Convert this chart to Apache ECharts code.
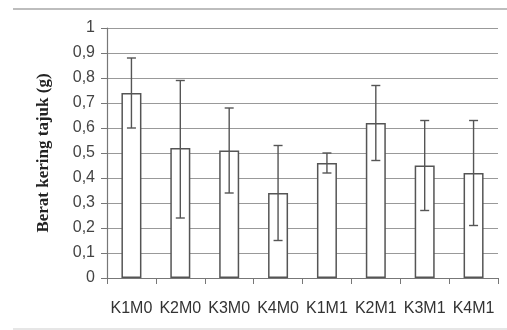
<!DOCTYPE html>
<html>
<head>
<meta charset="utf-8">
<script src="https://cdn.jsdelivr.net/npm/echarts@6/dist/echarts.min.js"></script>
<style>
  html, body { margin: 0; padding: 0; background: #fff; }
  #chart { width: 507px; height: 330px; }
</style>
</head>
<body>
<div id="chart"></div>
<script>
// data
const categories = ['K1M0', 'K2M0', 'K3M0', 'K4M0', 'K1M1', 'K2M1', 'K3M1', 'K4M1'];
const means = [0.74, 0.52, 0.51, 0.34, 0.46, 0.62, 0.45, 0.42];
const errLow = [0.60, 0.24, 0.34, 0.15, 0.42, 0.47, 0.27, 0.21];
const errHigh = [0.88, 0.79, 0.68, 0.53, 0.50, 0.77, 0.63, 0.63];

const errData = categories.map((c, i) => [i, errLow[i], errHigh[i]]);

const myChart = echarts.init(document.getElementById('chart'));
myChart.setOption({
  animation: false,
  grid: { left: 107, right: 9, top: 28, bottom: 52 },
  graphic: [
    { type: 'line', shape: { x1: 13, y1: 9, x2: 507, y2: 9 }, style: { stroke: '#bdbdbd', lineWidth: 2 } },
    { type: 'line', shape: { x1: 13, y1: 329, x2: 507, y2: 329 }, style: { stroke: '#e6e6e6', lineWidth: 2 } }
  ],
  xAxis: {
    type: 'category',
    data: categories,
    axisLine: { lineStyle: { color: '#777', width: 1.2 } },
    axisTick: { show: true, length: 6, lineStyle: { color: '#777' } },
    axisLabel: { interval: 0, color: '#333', fontFamily: 'Liberation Sans', fontSize: 16, margin: 23 }
  },
  yAxis: {
    type: 'value',
    min: 0,
    max: 1,
    interval: 0.1,
    name: 'Berat kering tajuk (g)',
    nameLocation: 'middle',
    nameGap: 55,
    nameTextStyle: { fontFamily: 'Liberation Serif', fontWeight: 'bold', fontSize: 17, color: '#222' },
    axisLine: { show: true, lineStyle: { color: '#777', width: 1.2 } },
    axisTick: { show: true, length: 6, lineStyle: { color: '#777' } },
    splitLine: { lineStyle: { color: '#999', width: 1.2 } },
    axisLabel: {
      color: '#444',
      fontFamily: 'Liberation Sans',
      fontSize: 16,
      margin: 12,
      formatter: v => String(+v.toFixed(1)).replace('.', ',')
    }
  },
  series: [{
    type: 'bar',
    data: means,
    barWidth: 20,
    itemStyle: { color: '#fff', borderColor: '#555', borderWidth: 1.5 }
  }, {
    type: 'custom',
    data: errData,
    z: 10,
    renderItem: function (params, api) {
      const lo = api.coord([api.value(0), api.value(1)]);
      const hi = api.coord([api.value(0), api.value(2)]);
      const hw = 4.5;
      const st = { stroke: '#555', lineWidth: 1.4 };
      return {
        type: 'group',
        children: [
          { type: 'line', shape: { x1: hi[0], y1: hi[1], x2: lo[0], y2: lo[1] }, style: st },
          { type: 'line', shape: { x1: hi[0] - hw, y1: hi[1], x2: hi[0] + hw, y2: hi[1] }, style: st },
          { type: 'line', shape: { x1: lo[0] - hw, y1: lo[1], x2: lo[0] + hw, y2: lo[1] }, style: st }
        ]
      };
    }
  }]
});

window.addEventListener('resize', function () {
  myChart.resize();
});
</script>
</body>
</html>
